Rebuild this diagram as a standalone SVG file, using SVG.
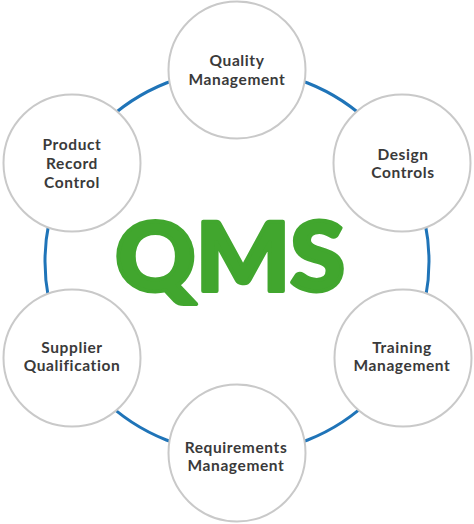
<svg xmlns="http://www.w3.org/2000/svg" width="474" height="524" viewBox="0 0 474 524">
<style>
.node circle{fill:#fff;stroke:#c9c9c9;stroke-width:2}
.node text{font-family:Lato,"Liberation Sans",sans-serif;font-weight:700;font-size:15.5px;letter-spacing:0.6px;fill:#3a3a3a;text-anchor:middle}
.ring{fill:none;stroke:#1f74b8;stroke-width:3}
.title{font-family:Lato,"DejaVu Sans",sans-serif;font-weight:900;font-size:96px;fill:#41a62e;stroke:#41a62e;stroke-width:4;stroke-linejoin:round;text-anchor:middle}
</style>
<rect width="474" height="524" fill="#fff"/>
<g id="connectors">
<circle class="ring" cx="237" cy="261.5" r="192"/>
</g>
<text class="title" x="230" y="291" textLength="230" lengthAdjust="spacingAndGlyphs">QMS</text>
<g id="quality" class="node">
<circle cx="237" cy="70" r="68.5"/>
<text x="237" y="66">Quality</text>
<text x="237" y="84.8">Management</text>
</g>
<g id="design" class="node">
<circle cx="402" cy="163" r="68.5"/>
<text x="403" y="159.5">Design</text>
<text x="403" y="178.3">Controls</text>
</g>
<g id="training" class="node">
<circle cx="403" cy="358" r="68.5"/>
<text x="402" y="352.5">Training</text>
<text x="402" y="371.3">Management</text>
</g>
<g id="requirements" class="node">
<circle cx="237" cy="453" r="68.5"/>
<text x="236" y="452.5">Requirements</text>
<text x="236" y="471.3">Management</text>
</g>
<g id="supplier" class="node">
<circle cx="72" cy="358" r="68.5"/>
<text x="72" y="352.5">Supplier</text>
<text x="72" y="371.3">Qualification</text>
</g>
<g id="product" class="node">
<circle cx="72" cy="163" r="68.5"/>
<text x="72" y="150">Product</text>
<text x="72" y="168.8">Record</text>
<text x="72" y="187.6">Control</text>
</g>
</svg>
